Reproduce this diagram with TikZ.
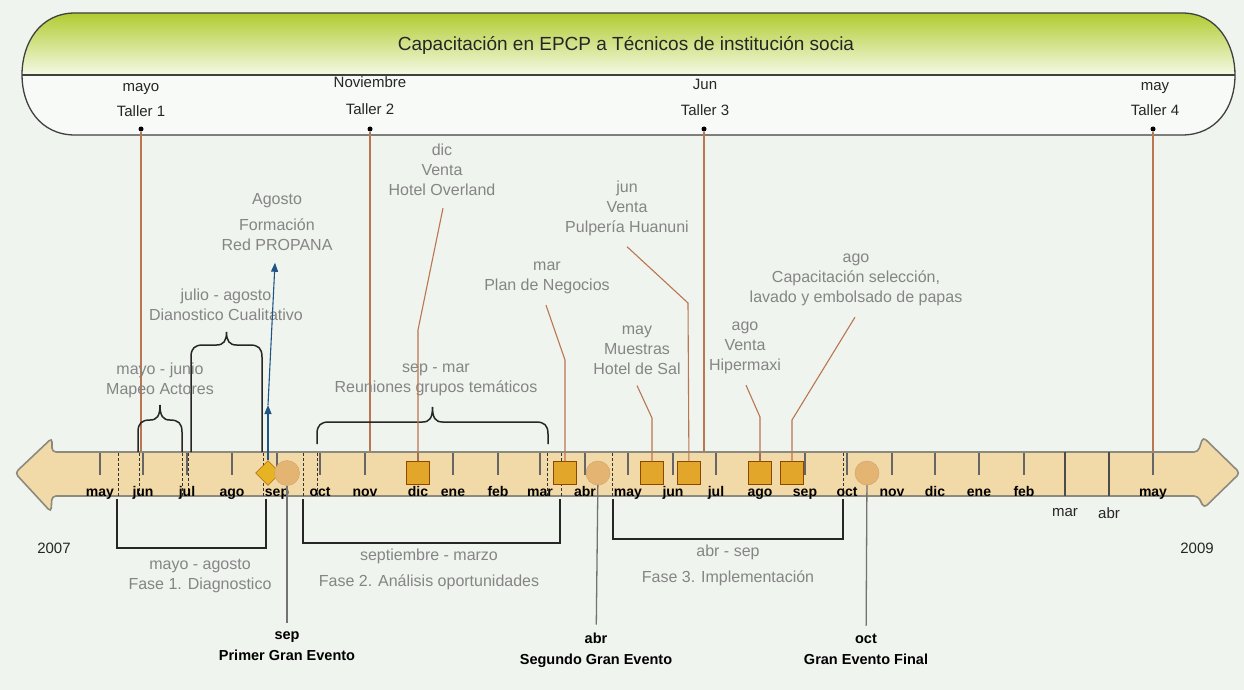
\documentclass[tikz,border=0pt]{standalone}
\usepackage{fontspec}
\setmainfont{Liberation Sans}
\usetikzlibrary{arrows.meta,shapes.geometric}

\definecolor{fondo}{RGB}{239,244,238}
\definecolor{verde}{RGB}{176,204,48}
\definecolor{barra}{RGB}{241,217,168}
\definecolor{bordebarra}{RGB}{140,138,126}
\definecolor{cafe}{RGB}{186,118,80}
\definecolor{naranja}{RGB}{226,166,42}
\definecolor{ocre}{RGB}{228,180,114}
\definecolor{azul}{RGB}{30,84,134}

\tikzset{
  nota/.style={text=black!48, align=center, font=\fontsize{16}{20}\selectfont, inner sep=0},
  taller/.style={text=black!85, font=\fontsize{15}{18}\selectfont, inner sep=0},
  mes/.style={font=\bfseries\fontsize{14}{16}\selectfont, inner sep=0, anchor=base},
  evento/.style={font=\bfseries\fontsize{14.5}{21}\selectfont, align=center, inner sep=0},
  marco/.style={draw=black!75, line width=1.3},
  marca/.style={draw=black!60, line width=2.6},
  guia/.style={draw=black!80, densely dashed, line width=0.9},
  llave/.style={draw=black!85, line width=1.5},
  fase/.style={draw=black!85, line width=1.6},
  liga/.style={draw=cafe, line width=1.1},
  gris/.style={draw=black!55, line width=1.3},
  punto/.style={circle, fill=black, inner sep=0, minimum size=5},
  caja/.style={draw=orange!55!black, fill=naranja, minimum size=23, inner sep=0},
  evcirc/.style={circle, draw=brown!75, fill=ocre, minimum size=24, inner sep=0},
  rombo/.style={diamond, draw=orange!60!black, fill=naranja!85!yellow, minimum size=25, inner sep=0}
}

% llave sobre la barra: x izq, x der, y hombro, y pico, y pie
\newcommand{\llave}[5]{%
  \draw[llave] (#1,#5) -- (#1,#3+12) .. controls (#1,#3+3) and (#1+4,#3) .. (#1+12,#3)
    -- ({(#1+#2)/2-10},#3) .. controls ({(#1+#2)/2-3},#3) and ({(#1+#2)/2},#3-4) .. ({(#1+#2)/2},#4)
    .. controls ({(#1+#2)/2},#3-4) and ({(#1+#2)/2+3},#3) .. ({(#1+#2)/2+10},#3)
    -- (#2-12,#3) .. controls (#2-4,#3) and (#2,#3+3) .. (#2,#3+12) -- (#2,#5);}

\begin{document}
\begin{tikzpicture}[x=1pt,y=-1pt]

	\fill[fondo] (0,0) rectangle (1244,690);
	\useasboundingbox (0,0) rectangle (1244,690);

	% banda de capacitacion
	\begin{scope}
		\clip (75,13) -- (1182,13) .. controls (1218,13) and (1235,45) .. (1235,75)
			.. controls (1235,108) and (1216,135) .. (1182,135) -- (75,135)
			.. controls (40,135) and (22,106) .. (22,75) .. controls (22,43) and (40,13) .. (75,13) -- cycle;
		\fill[white!55!fondo] (0,13) rectangle (1244,135);
		\shade[top color=verde, bottom color=white!88!verde] (0,13) rectangle (1244,75);
	\end{scope}
	\draw[marco] (75,13) -- (1182,13) .. controls (1218,13) and (1235,45) .. (1235,75)
			.. controls (1235,108) and (1216,135) .. (1182,135) -- (75,135)
			.. controls (40,135) and (22,106) .. (22,75) .. controls (22,43) and (40,13) .. (75,13) -- cycle;
	\draw[marco] (22,75) -- (1235,75);

	\node[text=black!85, font=\fontsize{19}{22}\selectfont] (titulo) at (626,45)
		{Capacitación en EPCP a Técnicos de institución socia};

	\node[taller] (mes1) at (141,89) {mayo};
	\node[taller] (tal1) at (141,111) {Taller 1};
	\node[taller] (mes2) at (370,82) {Noviembre};
	\node[taller] (tal2) at (370,109) {Taller 2};
	\node[taller] (mes3) at (705,84) {Jun};
	\node[taller] (tal3) at (705,110) {Taller 3};
	\node[taller] (mes4) at (1155,88) {may};
	\node[taller] (tal4) at (1155,110) {Taller 4};

	\node[punto] (t1) at (141,129) {};
	\node[punto] (t2) at (370,129) {};
	\node[punto] (t3) at (704,129) {};
	\node[punto] (t4) at (1153,129) {};

	\coordinate (b1) at (141,452);
	\coordinate (b2) at (370,452);
	\coordinate (b3) at (704,452);
	\coordinate (b4) at (1153,452);
	\draw[liga] (t1) -- (b1);
	\draw[liga] (t2) -- (b2);
	\draw[liga] (t3) -- (b3);
	\draw[liga] (t4) -- (b4);

	% barra de tiempo
	\draw[draw=bordebarra, fill=barra, line width=1.6, rounded corners=4]
		(15,473) -- (52,438) -- (52,452) -- (1198,452) -- (1203,437) -- (1240,473)
		-- (1204,508) -- (1198,496) -- (52,496) -- (51,512) -- cycle;

	\foreach \x in {118,139,182,188,263,303,317,547,561,612,843}
		\draw[guia] (\x,453) -- (\x,496);

	\foreach \x/\m [count=\i] in {100/may,143/jun,187/jul,232/ago,277/sep,320/oct,365/nov,
		418/dic,453/ene,498/feb,540/mar,585/abr,628/may,673/jun,716/jul,760/ago,805/sep,
		847/oct,892/nov,935/dic,979/ene,1024/feb,1153/may}
	{
		\draw[marca] (\x,453) -- (\x,475);
		\node[mes] (m\i) at (\x,496) {\m};
	}

	\draw[draw=black!70, line width=1.3] (1065,452) -- (1065,496);
	\draw[draw=black!70, line width=1.3] (1109,452) -- (1109,496);
	\node[taller] (mar9) at (1065,513) {mar};
	\node[taller] (abr9) at (1109,513) {abr};

	\node[taller] (a2007) at (54,548) {2007};
	\node[taller] (a2009) at (1197,548) {2009};

	% llaves superiores
	\llave{138}{182}{420}{405}{452}
	\llave{191}{262}{345}{332}{452}
	\llave{317}{548}{422}{407}{444}

	\node[nota] (nMapeo) at (160,380) {mayo - junio\\Mapeo Actores};
	\node[nota] (nDiag) at (226,305) {julio - agosto\\Dianostico Cualitativo};
	\node[nota] (nReun) at (436,380) {sep - mar\\Reuniones grupos temáticos};

	% hitos
	\node[rombo] (dAgo) at (268,473) {};
	\node[evcirc, minimum size=25] (eSep) at (287,473) {};
	\node[evcirc] (eAbr) at (598,473) {};
	\node[evcirc] (eOct) at (867,473) {};

	\node[caja] (cDic) at (418,473) {};
	\node[caja] (cMar) at (565,473) {};
	\node[caja] (cMay) at (652,473) {};
	\node[caja] (cJun) at (689,473) {};
	\node[caja] (cAgo) at (760,473) {};
	\node[caja] (cSep) at (792,473) {};

	\node[nota] (nPropana) at (277,222) {Agosto\\[6pt]Formación\\Red PROPANA};
	\node[nota] (nOverland) at (442,170) {dic\\Venta\\Hotel Overland};
	\node[nota] (nPulperia) at (627,208) {jun\\Venta\\Pulpería Huanuni};
	\node[nota] (nPlan) at (547,278) {mar\\Plan de Negocios};
	\node[nota] (nMuestras) at (637,350) {may\\Muestras\\Hotel de Sal};
	\node[nota] (nHiper) at (745,348) {ago\\Venta\\Hipermaxi};
	\node[nota] (nCapac) at (856,280) {ago\\Capacitación selección,\\lavado y embolsado de papas};

	\coordinate (kProp) at (268,405);
	\draw[azul, line width=1.1, -{Triangle[length=9pt,width=7pt]}] (dAgo.north) -- (kProp);
	\draw[azul, line width=1.1, shorten >=12pt, -{Triangle[length=9pt,width=7pt]}] (kProp) -- (nPropana);

	\draw[liga] (nOverland.south) ++(1,12) -- (418,330) -- (cDic);
	\draw[liga] (nPulperia.south) ++(0,11) -- (688,303) -- (cJun);
	\draw[liga] (nPlan.south) ++(-1,11) -- (565,360) -- (cMar);
	\draw[liga] (nMuestras.south) ++(0,11) -- (652,418) -- (cMay);
	\draw[liga] (nHiper.south) ++(1,11) -- (760,417) -- (cAgo);
	\draw[liga] (nCapac.south) ++(-1,11) -- (792,420) -- (cSep);

	% fases
	\draw[fase] (117,499) -- (117,548) -- (266,548) -- (266,499);
	\draw[fase] (303,499) -- (303,543) -- (560,543) -- (560,499);
	\draw[fase] (613,499) -- (613,539) -- (843,539) -- (843,499);

	\node[nota] (nFase1) at (200,576) {mayo - agosto\\Fase 1. Diagnostico};
	\node[nota] (nFase2) at (429,569) {septiembre - marzo\\[6pt]Fase 2. Análisis oportunidades};
	\node[nota] (nFase3) at (728,565) {abr - sep\\[6pt]Fase 3. Implementación};

	% grandes eventos
	\node[evento] (evSep) at (287,646) {sep\\Primer Gran Evento};
	\node[evento] (evAbr) at (596,650) {abr\\Segundo Gran Evento};
	\node[evento] (evOct) at (866,649) {oct\\Gran Evento Final};

	\draw[gris, shorten >=8pt] (eSep) -- (evSep);
	\draw[gris, shorten >=8pt] (eAbr) -- (evAbr);
	\draw[gris, shorten >=8pt] (eOct) -- (evOct);

\end{tikzpicture}
\end{document}
